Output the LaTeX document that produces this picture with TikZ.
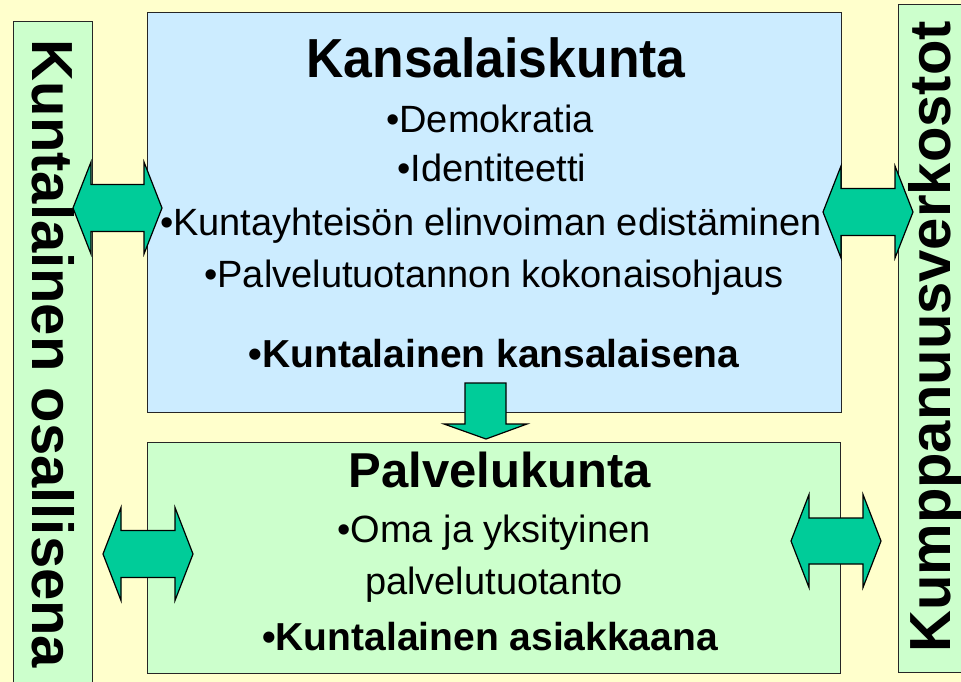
\documentclass[tikz,border=0pt]{standalone}
\usepackage{fontspec}
\setmainfont{Liberation Sans}
\definecolor{bgc}{HTML}{FFFFCC}
\definecolor{bluec}{HTML}{CCECFF}
\definecolor{greenc}{HTML}{CCFFCC}
\definecolor{arrc}{HTML}{00CC99}
\newcommand\DArrow[6]{% x1 x2 yc headhalf shafthalf headlen
  \draw[arr] (#1,#3) -- (#1+#6,#3-#4) -- (#1+#6,#3-#5) -- (#2-#6,#3-#5) -- (#2-#6,#3-#4)
    -- (#2,#3) -- (#2-#6,#3+#4) -- (#2-#6,#3+#5) -- (#1+#6,#3+#5) -- (#1+#6,#3+#4) -- cycle;}
\begin{document}
\begin{tikzpicture}[x=1pt,y=-1pt,
  boxx/.style={draw=black!85, line width=1.3pt, rectangle, anchor=north west, inner sep=0pt},
  arr/.style={draw=black, line width=1.2pt, fill=arrc, line join=miter},
  reg/.style={anchor=base, inner sep=0pt, font=\fontsize{38}{40}\selectfont},
  bld/.style={anchor=base, inner sep=0pt, font=\fontsize{39}{41}\selectfont\bfseries},
  ttl/.style={anchor=base, inner sep=0pt, font=\fontsize{55}{57}\selectfont\bfseries},
  vert/.style={anchor=base, inner sep=0pt, font=\fontsize{58}{60}\selectfont\bfseries}]
\fill[bgc] (0,0) rectangle (961,682);
\useasboundingbox (0,0) rectangle (961,682);
\clip (0,0) rectangle (961,682);
% side bars
\node[boxx, fill=greenc, minimum width=79pt, minimum height=690pt] (lbar) at (13,21) {};
\node[boxx, fill=greenc, minimum width=90pt, minimum height=668pt] (rbar) at (898,4) {};
% main boxes
\node[boxx, fill=bluec, minimum width=694pt, minimum height=400pt] (top) at (147,12) {};
\node[boxx, fill=greenc, minimum width=693pt, minimum height=231pt] (bot) at (147,442) {};
% arrows
\DArrow{73}{162}{208}{46}{23.5}{18}
\DArrow{823}{913}{212}{46}{23.5}{18}
\DArrow{103}{193}{554}{46.5}{23.5}{18}
\DArrow{791}{881}{541}{46.5}{23}{18}
\draw[arr] (465,383) -- (506,383) -- (506,424) -- (527,424) -- (486,439) -- (444,424) -- (465,424) -- cycle;
% vertical labels
\node[vert, rotate=-90] (ltext) at (32,354) {Kuntalainen osallisena};
\node[vert, rotate=90] (rtext) at (950,337) {Kumppanuusverkostot};
% top box text
\node[ttl] (t1) at (496,78) {\scalebox{0.94}[1]{Kansalaiskunta}};
\node[reg] (t2) at (490,132) {•Demokratia};
\node[reg] (t3) at (492,181) {•Identiteetti};
\node[reg] (t4) at (491,235) {•Kuntayhteisön elinvoiman edistäminen};
\node[reg] (t5) at (494,287) {•Palvelutuotannon kokonaisohjaus};
\node[bld] (t6) at (494,367) {•Kuntalainen kansalaisena};
% bottom box text
\node[ttl, font=\fontsize{49}{51}\selectfont\bfseries] (b1) at (500,487) {Palvelukunta};
\node[reg] (b2) at (494,542) {•Oma ja yksityinen};
\node[reg] (b3) at (494,594) {palvelutuotanto};
\node[bld] (b4) at (490,650) {•Kuntalainen asiakkaana};
\end{tikzpicture}
\end{document}
